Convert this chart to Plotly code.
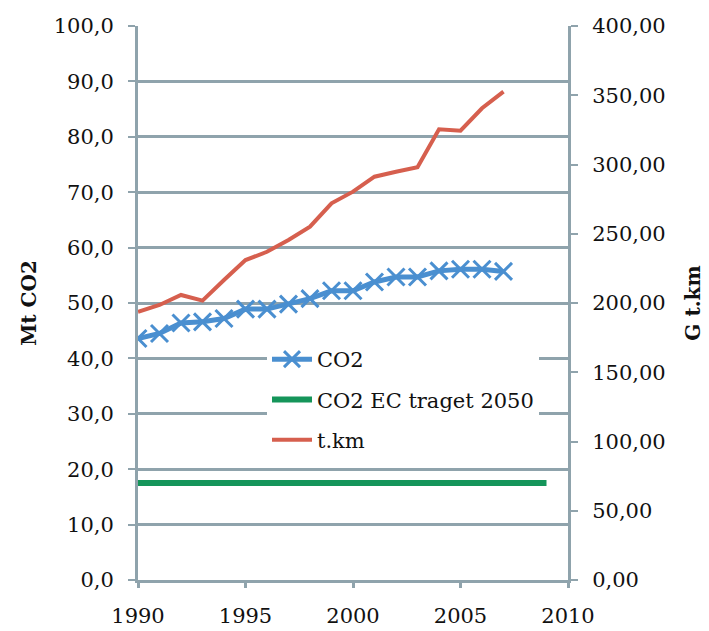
import plotly.graph_objects as go

years = list(range(1990, 2008))
co2 = [43.6, 44.5, 46.4, 46.6, 47.2, 48.9, 48.9, 49.8, 50.8, 52.2, 52.2,
       53.8, 54.7, 54.7, 55.8, 56.1, 56.1, 55.7]
tkm = [193.7, 198.6, 205.8, 201.7, 216.6, 231.0, 237.0, 245.5, 255.1, 272.0,
       280.4, 291.2, 294.8, 298.0, 325.4, 324.4, 340.6, 352.6]
target_years = list(range(1990, 2010))
target = [17.5] * len(target_years)

left_ticks = [0, 10, 20, 30, 40, 50, 60, 70, 80, 90, 100]
left_labels = ["0,0", "10,0", "20,0", "30,0", "40,0", "50,0", "60,0", "70,0", "80,0", "90,0", "100,0"]
right_ticks = [0, 50, 100, 150, 200, 250, 300, 350, 400]
right_labels = ["0,00", "50,00", "100,00", "150,00", "200,00", "250,00", "300,00", "350,00", "400,00"]
x_ticks = [1990, 1995, 2000, 2005, 2010]

axis_color = "#8FA3AC"
font = "DejaVu Serif"
fs = 21

fig = go.Figure()
fig.add_trace(go.Scatter(
    x=years, y=co2, name="CO2", mode="lines+markers",
    line=dict(color="#4A8FD0", width=5),
    marker=dict(symbol="x-thin", size=17, line=dict(color="#4A8FD0", width=3), color="#4A8FD0"),
    legendgroup="a", yaxis="y"))
fig.add_trace(go.Scatter(
    x=target_years, y=target, name="CO2 EC traget 2050", mode="lines",
    line=dict(color="#15955A", width=6), legendgroup="b", yaxis="y"))
fig.add_trace(go.Scatter(
    x=years, y=tkm, name="t.km", mode="lines",
    line=dict(color="#D65F4E", width=4), legendgroup="c", yaxis="y2"))

fig.update_layout(
    width=701, height=623,
    margin=dict(l=130, r=141, t=18, b=51),
    paper_bgcolor="white", plot_bgcolor="white",
    font=dict(family=font, size=fs, color="#111111"),
    showlegend=True,
    legend=dict(x=0.30, y=0.435, xanchor="left", yanchor="top",
                bgcolor="white", font=dict(size=fs, family=font),
                tracegroupgap=10, traceorder="grouped", itemwidth=40),
    xaxis=dict(range=[1990, 2010], tickvals=x_ticks, ticktext=[str(v) for v in x_ticks],
               showgrid=False, showline=True, linecolor=axis_color, linewidth=3,
               ticks="outside", ticklen=5, tickwidth=3, tickcolor=axis_color,
               zeroline=False, ticklabelstandoff=10, automargin=False),
    yaxis=dict(range=[0, 100], tickvals=left_ticks, ticktext=left_labels,
               showgrid=True, gridcolor=axis_color, gridwidth=3,
               showline=True, linecolor=axis_color, linewidth=3,
               ticks="outside", ticklen=7, tickwidth=2, tickcolor=axis_color,
               zeroline=False, ticklabelstandoff=10, automargin=False,
               title=dict(text="<b>Mt CO2</b>", font=dict(size=20, family=font), standoff=12)),
    yaxis2=dict(range=[0, 400], tickvals=right_ticks, ticktext=right_labels,
                overlaying="y", side="right", showgrid=False,
                showline=True, linecolor=axis_color, linewidth=3,
                ticks="outside", ticklen=7, tickwidth=2, tickcolor=axis_color,
                zeroline=False, ticklabelstandoff=10, automargin=False,
                title=dict(text="<b>G t.km</b>", font=dict(size=20, family=font), standoff=22)),
)

fig.write_html("out.html")
